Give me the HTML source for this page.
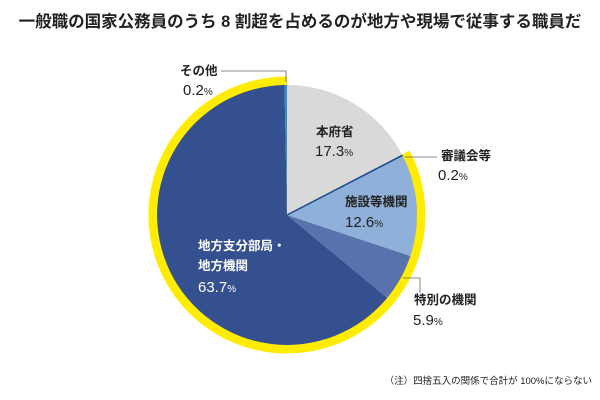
<!DOCTYPE html>
<html><head><meta charset="utf-8"><style>
body{margin:0;background:#fff}
svg{display:block}
text{font-family:"Liberation Sans","Noto Sans CJK JP",sans-serif;fill:#222}
.l{font-size:12.5px;font-weight:bold}
.n{font-size:15px}
.p{font-size:10px}
.w{fill:#fff}
</style></head><body>
<svg width="600" height="400" viewBox="0 0 600 400">
<text x="300" y="27" text-anchor="middle" style="font-size:16.5px;font-weight:bold">一般職の国家公務員のうち 8 割超を占めるのが地方や現場で従事する職員だ</text>
<path d="M405.6,152.7 A134 134 0 1 1 287 81" fill="none" stroke="#ffec00" stroke-width="9"/>
<path d="M287,215 L287,85 A130 130 0 0 1 402.1,154.6 Z" fill="#d9d9d9"/>
<path d="M287,215 L402.1,154.6 A130 130 0 0 1 402.8,156 Z" fill="#1a4a8a"/>
<path d="M287,215 L402.8,156 A130 130 0 0 1 410.4,256 Z" fill="#8eb0d9"/>
<path d="M287,215 L410.4,256 A130 130 0 0 1 387.2,297.9 Z" fill="#5872ad"/>
<path d="M287,215 L387.2,297.9 A130 130 0 1 1 284.5,85 Z" fill="#35508f"/>
<path d="M287,215 L284.5,85 A130 130 0 0 1 287,85 Z" fill="#2a8fd0"/>
<line x1="287" y1="215" x2="402.5" y2="155.3" stroke="#1a4a8a" stroke-width="1.5"/>
<polyline points="221,71 286,71 286,82" fill="none" stroke="#666" stroke-width="0.8"/>
<polyline points="405,157 437,157" fill="none" stroke="#666" stroke-width="0.8"/>
<polyline points="403,278 420,278 420,293" fill="none" stroke="#666" stroke-width="0.8"/>
<text x="180" y="75" class="l">その他</text>
<text x="183" y="95" class="n">0.2<tspan class="p">%</tspan></text>
<text x="316" y="136" class="l">本府省</text>
<text x="315" y="156" class="n">17.3<tspan class="p">%</tspan></text>
<text x="441" y="160" class="l">審議会等</text>
<text x="438" y="180" class="n">0.2<tspan class="p">%</tspan></text>
<text x="345" y="206" class="l">施設等機関</text>
<text x="345" y="227" class="n">12.6<tspan class="p">%</tspan></text>
<text x="198" y="250" class="l w">地方支分部局・</text>
<text x="198" y="270" class="l w">地方機関</text>
<text x="198" y="292" class="n w">63.7<tspan class="p w">%</tspan></text>
<text x="414" y="304" class="l">特別の機関</text>
<text x="413" y="325" class="n">5.9<tspan class="p">%</tspan></text>
<text x="592" y="384" text-anchor="end" style="font-size:9.5px">（注）四捨五入の関係で合計が 100%にならない</text>
</svg>
</body></html>
